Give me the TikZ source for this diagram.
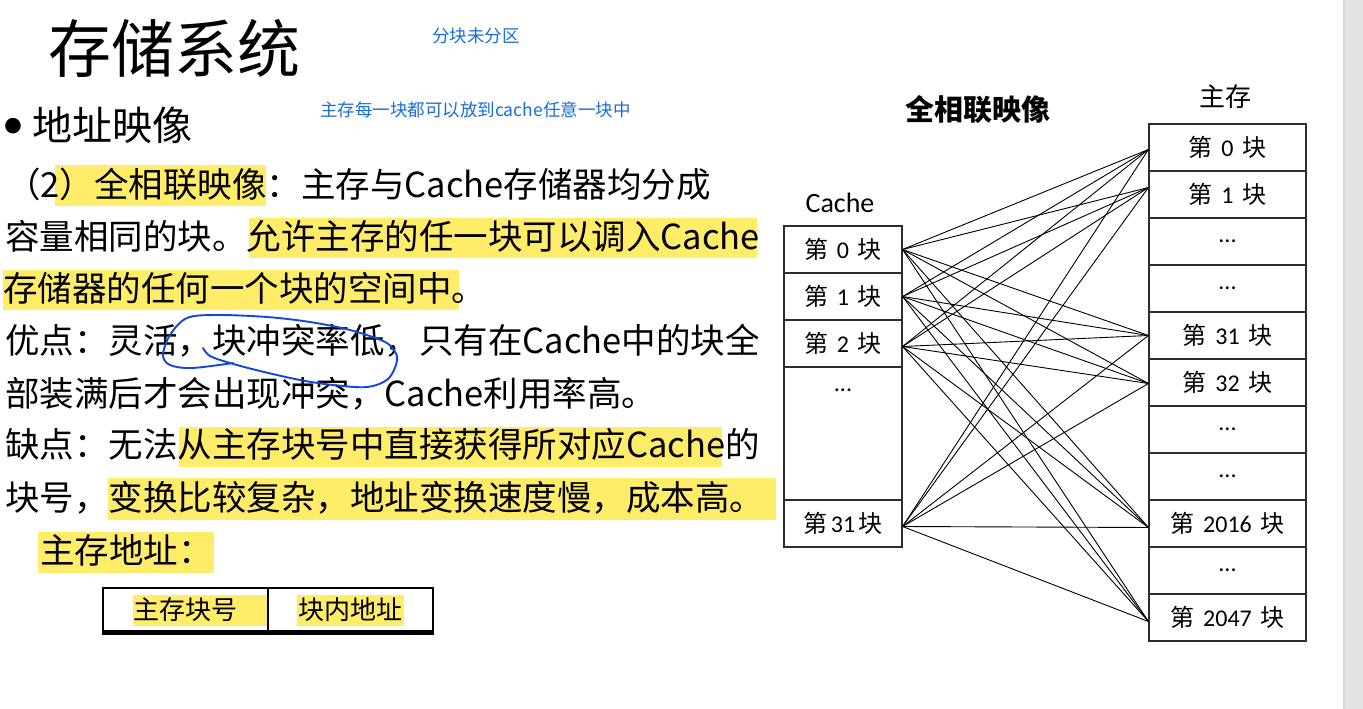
\documentclass[tikz,border=0pt]{standalone}
\usepackage{fontspec}
\setmainfont{Noto Sans CJK SC}
\newfontfamily\carl{Carlito}
\definecolor{hl}{RGB}{255,236,105}
\definecolor{note}{RGB}{24,110,220}
\definecolor{pen}{RGB}{20,70,220}
\definecolor{boxc}{RGB}{45,45,45}
\newcommand\fs[1]{\fontsize{#1}{#1}\selectfont}
\newcommand\blk[1]{第\hspace{0.37em}{\carl #1}\hspace{0.37em}块}
\begin{document}
\begin{tikzpicture}[x=1pt,y=-1pt,
  txt/.style={anchor=base west,inner sep=0pt,font=\fs{34.5}},
  notetxt/.style={anchor=base west,inner sep=0pt,text=note,font=\fs{17.5}},
  hlbox/.style={fill=hl,draw=none},
  cell/.style={draw=boxc,line width=1.1pt,inner sep=0pt,font=\fs{24}},
  ccell/.style={cell,minimum width=118pt,minimum height=47pt},
  mcell/.style={cell,minimum width=157pt,minimum height=47pt},
  tcell/.style={draw=black,line width=1.1pt,inner sep=0pt,minimum width=165pt,minimum height=43pt,font=\fs{26}},
  link/.style={line width=0.9pt,black},
  lbl/.style={inner sep=0pt}]
\useasboundingbox (0,0) rectangle (1363,709);
\fill[white] (0,0) rectangle (1363,709);
\fill[black!11] (1343,0) rectangle (1363,709);
\fill[black!16] (1343,0) rectangle (1345,709);

% highlights
\fill[hlbox] (55,165) rectangle (266,206);
\fill[hlbox] (249,218) rectangle (757,258);
\fill[hlbox] (3,270) rectangle (459,310);
\fill[hlbox] (179,427) rectangle (722,467);
\fill[hlbox] (108,478) rectangle (776,520);
\fill[hlbox] (38,532) rectangle (214,573);
\fill[hlbox] (133,595) rectangle (268,626);
\fill[hlbox] (297,595) rectangle (404,626);

% title and headings
\node[txt,font=\fs{63}] (title) at (48,73) {存储系统};
\node[inner sep=0pt,font=\carl\fs{44}] (bullet) at (13,128) {•};
\node[txt,font=\fs{40}] (head) at (32,140) {地址映像};
\node[notetxt] (n1) at (432,43) {分块未分区};
\node[notetxt] (n2) at (320,117) {主存每一块都可以放到cache任意一块中};

% body
\node[txt] (l1) at (6,197) {（2）全相联映像：主存与Cache存储器均分成};
\node[txt] (l2) at (5,249) {容量相同的块。允许主存的任一块可以调入Cache};
\node[txt] (l3) at (3,301) {存储器的任何一个块的空间中。};
\node[txt] (l4) at (5,353) {优点：灵活，块冲突率低，只有在Cache中的块全};
\node[txt] (l5) at (5,406) {部装满后才会出现冲突，Cache利用率高。};
\node[txt] (l6) at (5,457) {缺点：无法从主存块号中直接获得所对应Cache的};
\node[txt] (l7) at (5,510) {块号，变换比较复杂，地址变换速度慢，成本高。};
\node[txt] (l8) at (40,563) {主存地址：};

% pen loop
\draw[pen,line width=1.9pt,line cap=round,line join=round] plot[smooth,tension=0.55] coordinates {
 (203,348) (210,356) (230,363) (260,371) (300,380) (333,385) (367,387) (388,379) (397,361)
 (394,350) (383,341) (350,330) (310,322) (267,317) (217,315) (187,318) (170,335) (163,355)
 (170,365) (192,368) (233,363)};

% address table
\node[tcell] (t1) at (185.5,609.5) {主存块号};
\node[tcell] (t2) at (350.5,609.5) {块内地址};
\draw[line width=3pt] ([yshift=-1.5pt]t1.south west) -- ([yshift=-1.5pt]t2.south east);

% diagram labels
\node[lbl,font=\fs{29}\bfseries] (dtitle) at (978,110) {全相联映像};
\node[lbl,font=\carl\fs{28}] (clab) at (840,203) {Cache};
\node[lbl,font=\fs{26}] (mlab) at (1225,97) {主存};

% cache
\node[ccell] (c0) at (843,249.5) {\blk{0}};
\node[ccell] (c1) at (843,296.5) {\blk{1}};
\node[ccell] (c2) at (843,343.5) {\blk{2}};
\node[ccell,minimum height=133pt] (cd) at (843,433.5) {};
\node[lbl,font=\carl\fs{24}] (cdt) at (843,390) {...};
\node[ccell] (c31) at (843,523.5) {第\hspace{0.12em}{\carl 31}\hspace{0.12em}块};

% main memory
\node[mcell] (m0) at (1227.5,147.5) {\blk{0}};
\node[mcell] (m1) at (1227.5,194.5) {\blk{1}};
\node[mcell] (m2) at (1227.5,241.5) {\carl ...};
\node[mcell] (m3) at (1227.5,288.5) {\carl ...};
\node[mcell] (m4) at (1227.5,335.5) {\blk{31}};
\node[mcell] (m5) at (1227.5,382.5) {\blk{32}};
\node[mcell] (m6) at (1227.5,429.5) {\carl ...};
\node[mcell] (m7) at (1227.5,476.5) {\carl ...};
\node[mcell] (m8) at (1227.5,523.5) {\blk{2016}};
\node[mcell] (m9) at (1227.5,570.5) {\carl ...};
\node[mcell] (m10) at (1227.5,617.5) {\blk{2047}};

% connectors
\foreach \c/\cs in {c0/0,c1/0,c2/-3,c31/-3}{
  \foreach \m/\ms in {m0/-2,m1/7,m4/0,m5/-1,m8/-4,m10/-4}{
    \draw[link] ([yshift=\cs pt]\c.east) -- ([yshift=\ms pt]\m.west);
  }
}
\end{tikzpicture}
\end{document}
